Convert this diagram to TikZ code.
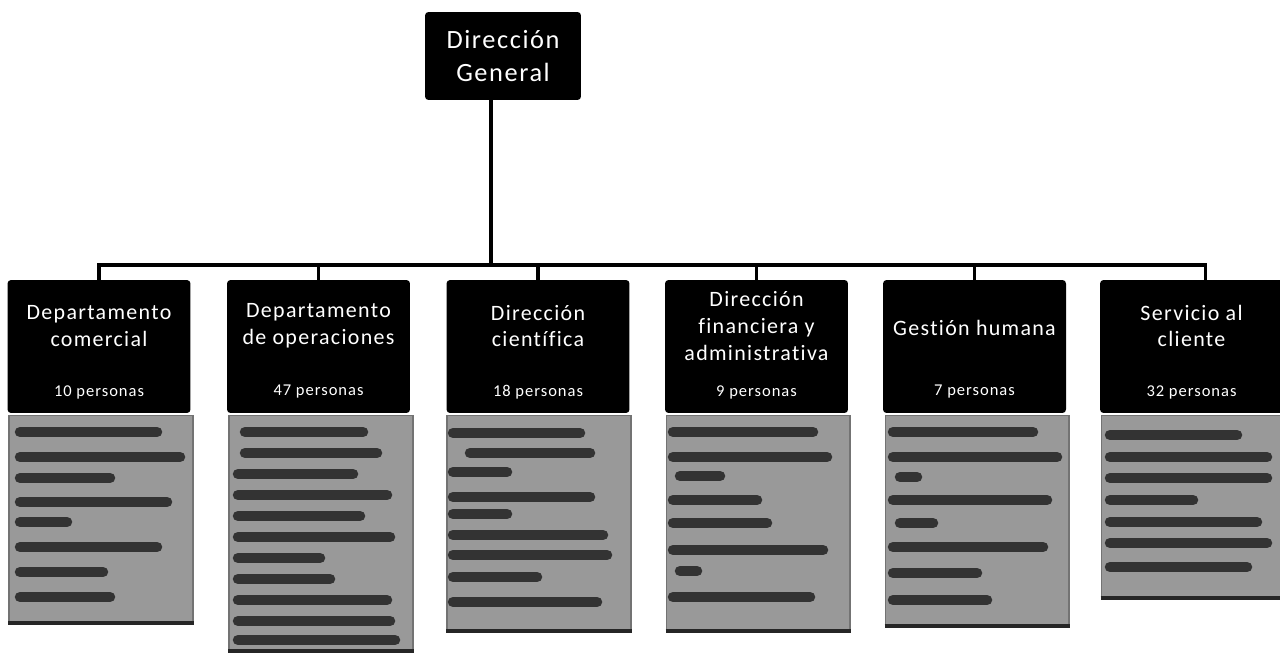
\documentclass[tikz,border=0pt]{standalone}
\usepackage{fontspec}
\setmainfont{Carlito}[LetterSpace=6, Ligatures={NoCommon}]
\usetikzlibrary{calc}
\begin{document}
\begin{tikzpicture}[x=0.02cm, y=-0.02cm,
  topbox/.style={fill=black, text=white, rounded corners=2pt, minimum width=3.12cm, minimum height=1.76cm, align=center, font=\fontsize{15}{19.3}\selectfont},
  headbox/.style={fill=black, rounded corners=2pt, minimum width=3.66cm, minimum height=2.66cm},
  headtext/.style={text=white, align=center, font=\fontsize{12.5}{15.3}\selectfont},
  perstext/.style={text=white, font=\fontsize{9.4}{11}\selectfont},
  listbox/.style={anchor=north, fill=black!40, draw=black!55, line width=0.6pt, minimum width=3.68cm},
  txtbar/.style={line width=0.21cm, line cap=round, black!80},
  joinline/.style={line width=2.2pt}]
\useasboundingbox (0,0) rectangle (1280,652);
\node[topbox] (dg) at (503,56){Dirección\\General};
\coordinate (bus) at (491,265);
\node[headbox] (c1) at (99,346.5){};
\node[headtext] (t1) at (99,326){Departamento\\comercial};
\node[perstext] (p1) at (99,392){10 personas};
\node[headbox] (c2) at (318.5,346.5){};
\node[headtext] (t2) at (318.5,326){Departamento\\de operaciones};
\node[perstext] (p2) at (318.5,392){47 personas};
\node[headbox] (c3) at (538,346.5){};
\node[headtext] (t3) at (538,326){Dirección\\científica};
\node[perstext] (p3) at (538,392){18 personas};
\node[headbox] (c4) at (756.5,346.5){};
\node[headtext] (t4) at (756.5,326){Dirección\\financiera y\\administrativa};
\node[perstext] (p4) at (756.5,392){9 personas};
\node[headbox] (c5) at (974.5,346.5){};
\node[headtext] (t5) at (974.5,328){Gestión humana};
\node[perstext] (p5) at (974.5,392){7 personas};
\node[headbox] (c6) at (1191.5,346.5){};
\node[headtext] (t6) at (1191.5,326){Servicio al\\cliente};
\node[perstext] (p6) at (1191.5,392){32 personas};
\node[listbox, minimum height=4.14cm] (g1) at (101,415){};
\node[listbox, minimum height=4.7cm] (g2) at (321,415){};
\node[listbox, minimum height=4.3cm] (g3) at (539,415){};
\node[listbox, minimum height=4.3cm] (g4) at (758,415){};
\node[listbox, minimum height=4.2cm] (g5) at (977,415){};
\node[listbox, minimum height=3.64cm] (g6) at (1193,415){};
\draw[joinline] (dg.south -| bus) -- (bus);
\foreach \n in {1,...,5}
  \draw[joinline] (bus) -| (c\n.north);
\draw[joinline] (bus) -| ($(c6.north)+(14,0)$);
\foreach \n in {1,...,6}
  \draw[line width=2pt, black!85] (g\n.south west) -- (g\n.south east);
\foreach \y/\a/\b in {432/20/157, 457/20/180, 478/20/110, 502/20/167, 522/20/67, 547/20/157, 572/20/103, 597/20/110}
  \draw[txtbar] (\a,\y) -- (\b,\y);
\foreach \y/\a/\b in {432/245/363, 453/245/377, 474/238/353, 495/238/387, 516/238/360, 537/238/390, 558/238/320, 579/238/330, 600/238/387, 621/238/390, 640/238/395}
  \draw[txtbar] (\a,\y) -- (\b,\y);
\foreach \y/\a/\b in {433/453/580, 453/470/590, 472/453/507, 497/453/590, 514/453/507, 535/453/603, 555/453/607, 577/453/537, 602/453/597}
  \draw[txtbar] (\a,\y) -- (\b,\y);
\foreach \y/\a/\b in {432/673/813, 457/673/827, 476/680/720, 500/673/757, 523/673/767, 550/673/823, 571/680/697, 597/673/810}
  \draw[txtbar] (\a,\y) -- (\b,\y);
\foreach \y/\a/\b in {432/893/1033, 457/893/1057, 477/900/917, 500/893/1047, 523/900/933, 547/893/1043, 573/893/977, 600/893/987}
  \draw[txtbar] (\a,\y) -- (\b,\y);
\foreach \y/\a/\b in {435/1110/1237, 457/1110/1267, 478/1110/1267, 500/1110/1193, 522/1110/1257, 543/1110/1267, 567/1110/1247}
  \draw[txtbar] (\a,\y) -- (\b,\y);
\end{tikzpicture}
\end{document}
